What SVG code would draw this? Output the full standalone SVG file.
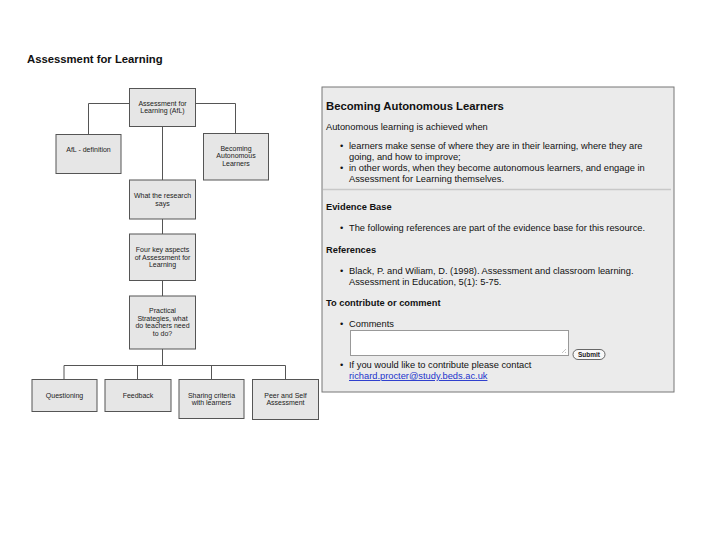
<svg xmlns="http://www.w3.org/2000/svg" width="720" height="540" viewBox="0 0 720 540">
<style>
.bx{fill:#e6e6e6;stroke:#555;stroke-width:1}
.bt{font-family:"Liberation Sans",Arial,sans-serif;font-size:7px;fill:#222;text-anchor:middle}
.ln{fill:none;stroke:#555;stroke-width:1}
.tx{font-family:"Liberation Sans",Arial,sans-serif;font-size:9.3px;fill:#111}
.hb{font-family:"Liberation Sans",Arial,sans-serif;font-size:9.3px;font-weight:bold;fill:#111}
</style>
<rect width="720" height="540" fill="#fff"/>
<text x="27" y="63" font-family="Liberation Sans,Arial,sans-serif" font-size="11.3" font-weight="bold" fill="#111">Assessment for Learning</text>
<g id="connectors">
<path class="ln" d="M129 103.5H88.5V134"/>
<path class="ln" d="M196 103.5H235.5V133"/>
<path class="ln" d="M162.5 126.5V180"/>
<path class="ln" d="M162.5 219V234"/>
<path class="ln" d="M162.5 281V296"/>
<path class="ln" d="M162.5 349V365.5"/>
<path class="ln" d="M64 379V365.5H285.5V379M137.5 365.5V379M211.5 365.5V379"/>
</g>
<g id="n-afl"><rect class="bx" x="129.5" y="88.5" width="66" height="38"/><text class="bt"><tspan x="162.5" y="105.5">Assessment for</tspan><tspan x="162.5" y="113">Learning (AfL)</tspan></text></g>
<g id="n-def"><rect class="bx" x="56" y="134.5" width="65" height="39"/><text class="bt" x="88.5" y="151.5">AfL - definition</text></g>
<g id="n-auto"><rect class="bx" x="203.5" y="133.5" width="65" height="46.5"/><text class="bt"><tspan x="236" y="151">Becoming</tspan><tspan x="236" y="158.3">Autonomous</tspan><tspan x="236" y="165.6">Learners</tspan></text></g>
<g id="n-research"><rect class="bx" x="129.5" y="180" width="66" height="39"/><text class="bt"><tspan x="162.5" y="198">What the research</tspan><tspan x="162.5" y="205.5">says</tspan></text></g>
<g id="n-four"><rect class="bx" x="129.5" y="234" width="66" height="46.5"/><text class="bt"><tspan x="162.5" y="252">Four key aspects</tspan><tspan x="162.5" y="259.5">of Assessment for</tspan><tspan x="162.5" y="267">Learning</tspan></text></g>
<g id="n-practical"><rect class="bx" x="129.5" y="296" width="66" height="53"/><text class="bt"><tspan x="162.5" y="313">Practical</tspan><tspan x="162.5" y="320.7">Strategies, what</tspan><tspan x="162.5" y="328.2">do teachers need</tspan><tspan x="162.5" y="335.8">to do?</tspan></text></g>
<g id="n-question"><rect class="bx" x="32" y="379.5" width="65" height="32"/><text class="bt" x="64.5" y="397.5">Questioning</text></g>
<g id="n-feedback"><rect class="bx" x="105" y="379.5" width="66" height="32"/><text class="bt" x="138" y="397.5">Feedback</text></g>
<g id="n-sharing"><rect class="bx" x="179" y="379.5" width="65" height="39"/><text class="bt"><tspan x="211.5" y="397.5">Sharing criteria</tspan><tspan x="211.5" y="405">with learners</tspan></text></g>
<g id="n-peer"><rect class="bx" x="252.5" y="379.5" width="66" height="40"/><text class="bt"><tspan x="285.5" y="397.5">Peer and Self</tspan><tspan x="285.5" y="405">Assessment</tspan></text></g>
<g id="panel">
<rect x="322" y="87" width="352" height="305" fill="#ebebeb" stroke="#777" stroke-width="1"/>
<text x="326" y="110" font-family="Liberation Sans,Arial,sans-serif" font-size="11.3" font-weight="bold" fill="#111">Becoming Autonomous Learners</text>
<text class="tx" x="326" y="130">Autonomous learning is achieved when</text>
<text class="tx" x="340" y="148.5">•</text>
<text class="tx" x="349" y="148.5">learners make sense of where they are in their learning, where they are</text>
<text class="tx" x="349" y="159.5">going, and how to improve;</text>
<text class="tx" x="340" y="170.5">•</text>
<text class="tx" x="349" y="170.5">in other words, when they become autonomous learners, and engage in</text>
<text class="tx" x="349" y="181.5">Assessment for Learning themselves.</text>
<line x1="323" y1="189.5" x2="671" y2="189.5" stroke="#c8c8c8" stroke-width="1.5"/>
<text class="hb" x="326" y="210">Evidence Base</text>
<text class="tx" x="340" y="231">•</text>
<text class="tx" x="349" y="231">The following references are part of the evidence base for this resource.</text>
<text class="hb" x="326" y="253">References</text>
<text class="tx" x="340" y="273.5">•</text>
<text class="tx" x="349" y="273.5">Black, P. and Wiliam, D. (1998). Assessment and classroom learning.</text>
<text class="tx" x="349" y="284.5">Assessment in Education, 5(1): 5-75.</text>
<text class="hb" x="326" y="305.5">To contribute or comment</text>
<text class="tx" x="340" y="327">•</text>
<text class="tx" x="349" y="327">Comments</text>
<rect x="350.5" y="330.5" width="218" height="25" fill="#fff" stroke="#999" stroke-width="1"/>
<path d="M566 349L562 353M566 352L565 353" stroke="#aaa" stroke-width="0.7"/>
<rect x="573" y="349.5" width="32" height="10" rx="5" fill="#f8f8f8" stroke="#444" stroke-width="0.8"/>
<text x="589" y="357.2" font-family="Liberation Sans,Arial,sans-serif" font-size="6.5" font-weight="bold" fill="#222" text-anchor="middle">Submit</text>
<text class="tx" x="340" y="368">•</text>
<text class="tx" x="349" y="368">If you would like to contribute please contact</text>
<text class="tx" x="349" y="379" fill="#2233cc" text-decoration="underline" style="fill:#2233cc">richard.procter@study.beds.ac.uk</text>
</g>
</svg>
